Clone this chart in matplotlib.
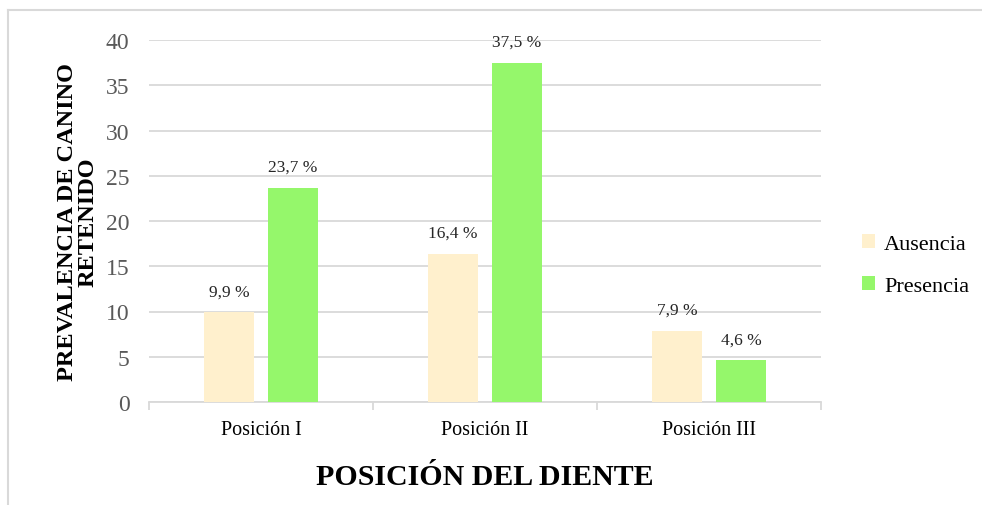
import matplotlib
matplotlib.use("Agg")
import matplotlib.pyplot as plt
from matplotlib.lines import Line2D
import numpy as np

categories = ["Posición I", "Posición II", "Posición III"]
ausencia = [9.9, 16.4, 7.9]
presencia = [23.7, 37.5, 4.6]
series_names = ["Ausencia", "Presencia"]
yticks = [0, 5, 10, 15, 20, 25, 30, 35, 40]

col_aus = "#FFF0CD"
col_pre = "#95F76B"
grid_col = "#D9D9D9"

plt.rcParams["font.family"] = ["Liberation Serif", "DejaVu Serif"]

W, H = 982, 506
fig = plt.figure(figsize=(W / 100, H / 100), dpi=100)

# chart frame (top and left edges)
fig.add_artist(Line2D([8 / W, 1.0], [1 - 11 / H, 1 - 11 / H], color=grid_col, lw=1.5))
fig.add_artist(Line2D([8 / W, 8 / W], [0, 1 - 11 / H], color=grid_col, lw=1.5))

x0, x1 = 149, 821
y0, y1 = 403, 41
ax = fig.add_axes([x0 / W, 1 - y0 / H, (x1 - x0) / W, (y0 - y1) / H])

x = np.arange(len(categories))
bw = 0.223
off = 0.143
b1 = ax.bar(x - off, ausencia, bw, color=col_aus, label=series_names[0], zorder=3)
b2 = ax.bar(x + off, presencia, bw, color=col_pre, label=series_names[1], zorder=3)

for bars, vals in ((b1, ausencia), (b2, presencia)):
    for r, v in zip(bars, vals):
        ax.annotate(f"{v:.1f} %".replace(".", ","),
                    (r.get_x() + r.get_width() / 2, v),
                    xytext=(0, 9), textcoords="offset points",
                    ha="center", va="bottom", fontsize=12.5, color="#262626")

ax.set_xlim(-0.5, len(categories) - 0.5)
ax.set_ylim(0, 40)
ax.set_yticks(yticks)
ax.yaxis.grid(True, color=grid_col, lw=1.3, zorder=0)
ax.tick_params(axis="y", length=0, labelsize=17, labelcolor="#595959", pad=14)

ax.set_xticks(x)
ax.set_xticklabels(categories, fontsize=14.5)
ax.tick_params(axis="x", length=0, pad=13)
ax.set_xticks(np.arange(len(categories) + 1) - 0.5, minor=True)
ax.tick_params(axis="x", which="minor", length=6, color=grid_col, width=1.3)

for s in ("top", "right", "left"):
    ax.spines[s].set_visible(False)
ax.spines["bottom"].set_color(grid_col)
ax.spines["bottom"].set_linewidth(1.3)

fig.text(78 / W, 1 - 222 / H, "PREVALENCIA DE CANINO\nRETENIDO", rotation=90,
         ha="center", va="center", fontsize=17.5, fontweight="bold",
         linespacing=0.95)
fig.text(485 / W, 1 - 478 / H, "POSICIÓN DEL DIENTE", ha="center", va="center",
         fontsize=21.5, fontweight="bold")

leg = fig.legend(handles=[b1, b2], loc="center left",
                 bbox_to_anchor=(842 / W, 1 - 266 / H), frameon=False,
                 fontsize=16, handlelength=0.6, handleheight=0.6,
                 handletextpad=0.4, labelspacing=1.0)

fig.savefig("out.png", dpi=100)
